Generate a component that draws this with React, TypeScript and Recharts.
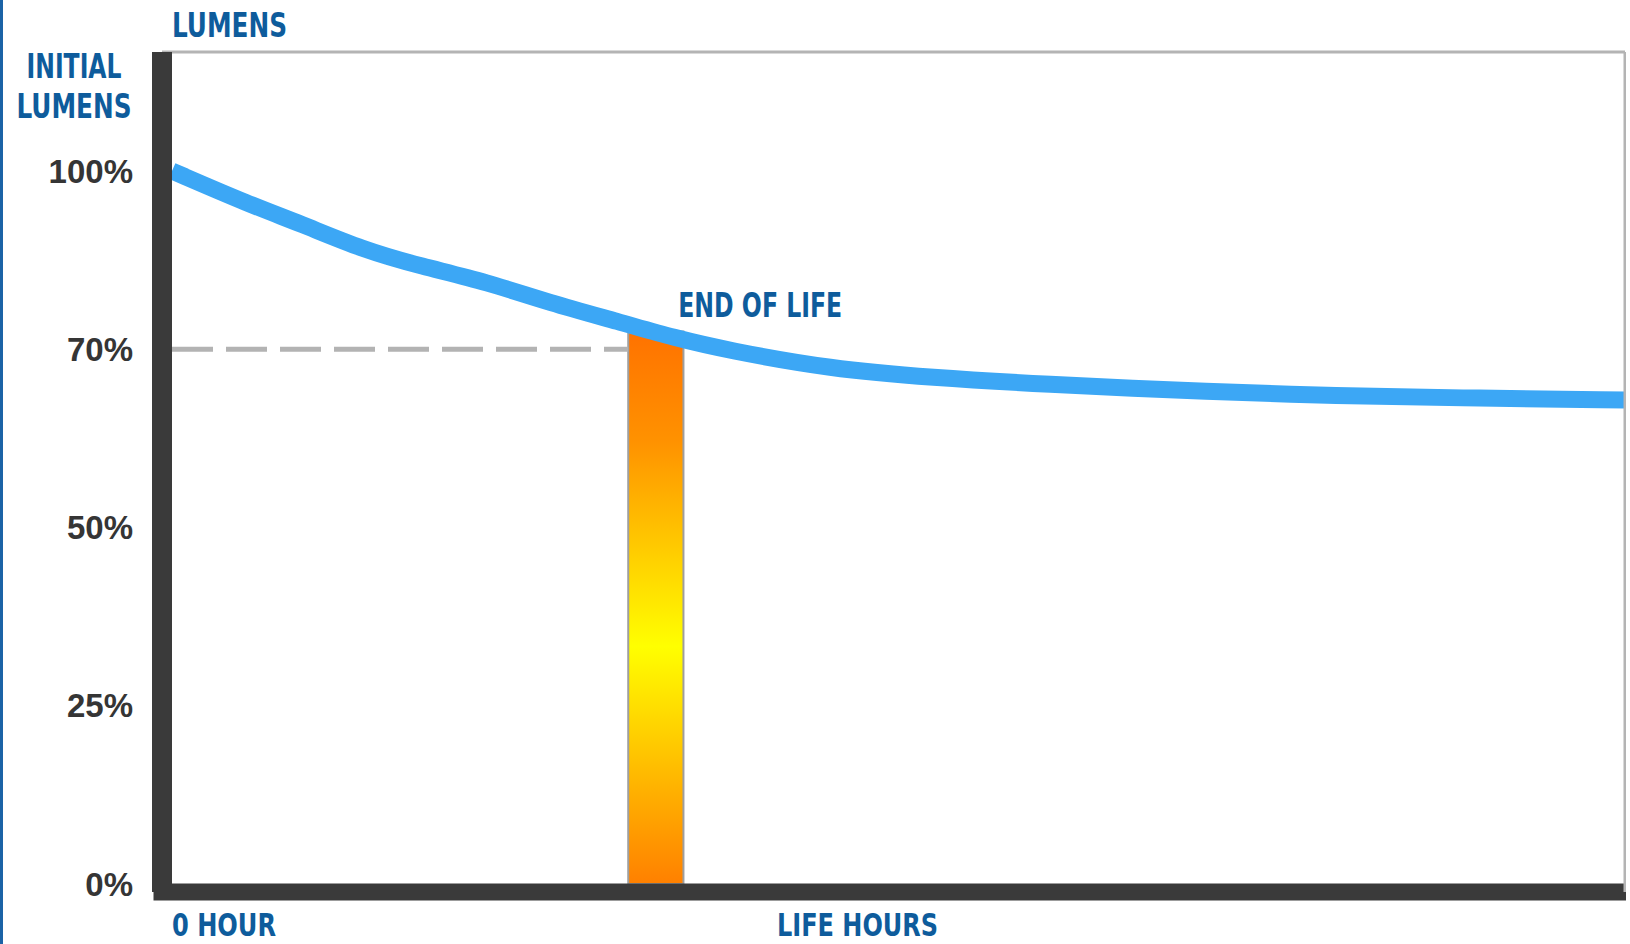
import React from "react"
import { ComposedChart, Line, XAxis, YAxis, ReferenceArea, ReferenceLine, Label } from "recharts"

// lumen labels on the left axis (the picture spaces them evenly, not to scale)
const lumenTicks = [0, 25, 50, 70, 100]

// life hours, as % of the drawn time span, and lumen output as % of initial
const lifeHours = [0, 5.4, 8.8, 13.2, 17.1, 21.7, 26.0, 30.8, 34.6, 38.2, 45.3, 52.4, 59.6, 71.9, 79.7, 90.0, 100]
const lumenPct = [100, 94.3, 91.2, 86.7, 84.0, 81.3, 77.8, 74.6, 71.9, 69.9, 67.8, 66.8, 66.1, 65.2, 64.8, 64.5, 64.3]

const hourTicks = [0]
const hourTickLabels = ["0 HOUR"]

// end-of-life band on the hours axis, and the lumen threshold it marks
const endOfLifeHours = [31.4, 35.2]
const endOfLifeTop = 73
const endOfLifeThreshold = 70

const BLUE = "#0e5c9c"
const DARK = "#3a3a3a"
const FRAME = "#b4b4b4"
const blueFont = {
  fontFamily: "'Liberation Sans Narrow', 'Arial Narrow', 'DejaVu Sans Condensed', sans-serif",
  fontWeight: 700,
  fontSize: 34,
}
const bottomFont = { ...blueFont, fontSize: 32 }

// place a lumen % between the two evenly spaced labels around it
function toSlot(pct: number) {
  for (let i = 0; i < lumenTicks.length - 1; i++) {
    const lo = lumenTicks[i]
    const hi = lumenTicks[i + 1]
    if (pct <= hi) return i + (pct - lo) / (hi - lo)
  }
  return lumenTicks.length - 1
}

const chartData = lifeHours.map((h, i) => ({ hours: h, lumens: lumenPct[i], slot: toSlot(lumenPct[i]) }))
const slotTicks = lumenTicks.map((_, i) => i)

function HourTick({ x, y, payload }: any) {
  const label = hourTickLabels[hourTicks.indexOf(payload.value)]
  return (
    <text x={x} y={y + 44} fill={BLUE} style={bottomFont} textLength={104} lengthAdjust="spacingAndGlyphs">
      {label}
    </text>
  )
}

function TitleLabels() {
  return (
    <g>
      <text x={172} y={37} fill={BLUE} style={blueFont} textLength={115} lengthAdjust="spacingAndGlyphs">LUMENS</text>
      <text x={74} y={78} fill={BLUE} style={blueFont} textAnchor="middle" textLength={95} lengthAdjust="spacingAndGlyphs">INITIAL</text>
      <text x={74} y={118} fill={BLUE} style={blueFont} textAnchor="middle" textLength={115} lengthAdjust="spacingAndGlyphs">LUMENS</text>
    </g>
  )
}

function LifeHoursLabel() {
  return (
    <text x={777} y={936} fill={BLUE} style={bottomFont} textLength={161} lengthAdjust="spacingAndGlyphs">LIFE HOURS</text>
  )
}

function EndOfLifeLabel({ viewBox }: any) {
  if (!viewBox) return null
  return (
    <text x={viewBox.x + 50} y={viewBox.y - 14} fill={BLUE} style={blueFont} textLength={164} lengthAdjust="spacingAndGlyphs">
      END OF LIFE
    </text>
  )
}

export default function App() {
  return (
    <div
      style={{
        position: "absolute",
        left: 0,
        top: 0,
        width: 1626,
        height: 944,
        overflow: "hidden",
        background: "#fff",
        boxShadow: "inset 3px 0 0 #1b63a6",
      }}
    >
      <ComposedChart width={1626} height={944} data={chartData} margin={{ top: 51, right: 0, bottom: 12, left: 12 }}>
        <defs>
          <linearGradient id="eolFill" x1="0" y1="0" x2="0" y2="1">
            <stop offset="0%" stopColor="#ff7200" />
            <stop offset="20%" stopColor="#ff9200" />
            <stop offset="57%" stopColor="#ffff00" />
            <stop offset="82%" stopColor="#ffb400" />
            <stop offset="100%" stopColor="#ff8000" />
          </linearGradient>
        </defs>

        <XAxis
          xAxisId="top"
          orientation="top"
          type="number"
          dataKey="hours"
          domain={[0, 100]}
          height={1}
          tick={false}
          tickLine={false}
          axisLine={{ stroke: FRAME, strokeWidth: 3 }}
        />
        <XAxis
          type="number"
          dataKey="hours"
          domain={[0, 100]}
          ticks={hourTicks}
          padding={{ left: 10, right: 0 }}
          height={40}
          tickSize={0}
          tickMargin={0}
          tickLine={false}
          tick={<HourTick />}
          axisLine={{ stroke: DARK, strokeWidth: 17, strokeLinecap: "square" }}
        >
          <Label content={<LifeHoursLabel />} />
        </XAxis>
        <YAxis
          type="number"
          domain={[0, lumenTicks.length - 1]}
          ticks={slotTicks}
          tickFormatter={(i: number) => `${lumenTicks[i]}%`}
          width={150}
          padding={{ top: 119, bottom: 8 }}
          tickSize={0}
          tickMargin={29}
          tickLine={false}
          tick={{ fill: "#353535", fontSize: 33, fontWeight: 700, fontFamily: "'Liberation Sans', Arial, sans-serif" }}
          axisLine={{ stroke: DARK, strokeWidth: 20 }}
        >
          <Label content={<TitleLabels />} />
        </YAxis>
        <YAxis
          yAxisId="right"
          orientation="right"
          type="number"
          domain={[0, lumenTicks.length - 1]}
          width={1}
          tick={false}
          tickLine={false}
          axisLine={{ stroke: FRAME, strokeWidth: 3 }}
        />

        <ReferenceArea
          x1={endOfLifeHours[0]}
          x2={endOfLifeHours[1]}
          y1={toSlot(0)}
          y2={toSlot(endOfLifeTop)}
          fill="url(#eolFill)"
          fillOpacity={1}
          stroke="#9e9e9e"
          strokeWidth={2}
        >
          <Label content={<EndOfLifeLabel />} />
        </ReferenceArea>
        <ReferenceLine
          segment={[
            { x: 0, y: toSlot(endOfLifeThreshold) },
            { x: endOfLifeHours[0], y: toSlot(endOfLifeThreshold) },
          ]}
          stroke="#b3b3b3"
          strokeWidth={5}
          strokeDasharray="41 13"
        />
        <Line
          type="basis"
          dataKey="slot"
          stroke="#3ca7f5"
          strokeWidth={17}
          dot={false}
          activeDot={false}
          isAnimationActive={false}
        />
      </ComposedChart>
    </div>
  )
}
